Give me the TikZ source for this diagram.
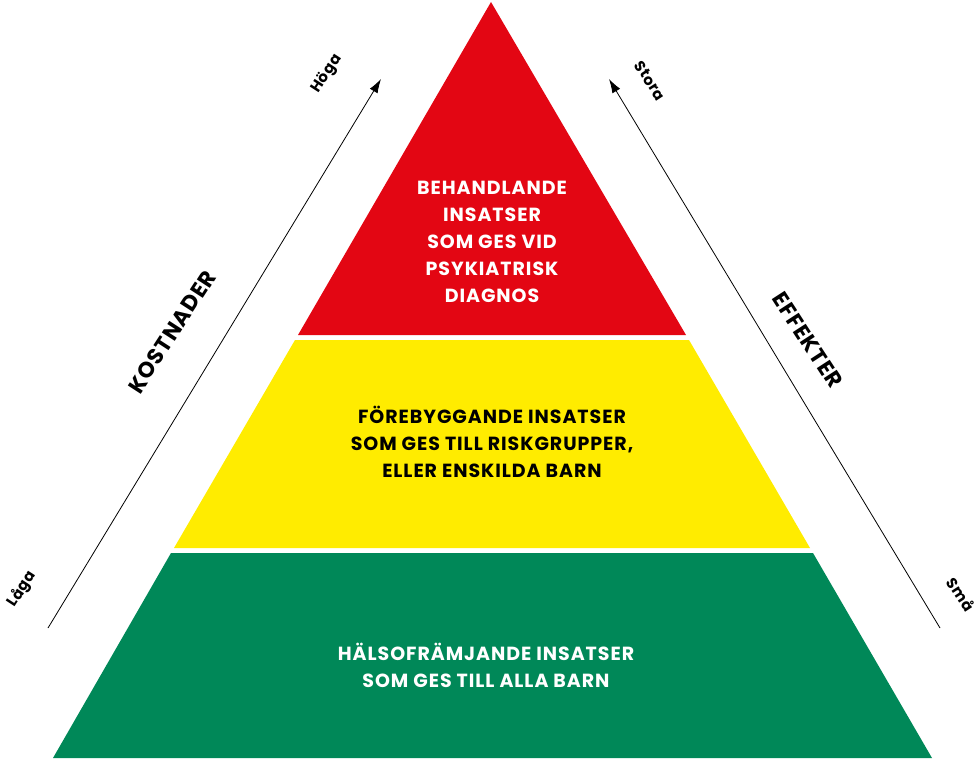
\documentclass[tikz,border=0pt]{standalone}
\usepackage{fontspec}
\setmainfont{Poppins}
\usetikzlibrary{arrows.meta}
\definecolor{pyrred}{HTML}{E30613}
\definecolor{pyryellow}{HTML}{FFEC00}
\definecolor{pyrgreen}{HTML}{008858}
\begin{document}
\begin{tikzpicture}[x=1pt,y=-1pt,
  bandtext/.style={text=white,font=\fontsize{19}{27}\selectfont\bfseries\addfontfeatures{LetterSpace=5},align=center},
  axislabel/.style={font=\fontsize{22}{24}\selectfont\bfseries\addfontfeatures{LetterSpace=4}},
  endlabel/.style={font=\fontsize{15}{16}\selectfont\bfseries\addfontfeatures{LetterSpace=3}},
  axisarrow/.style={thick,-{Latex[length=14pt,width=9pt]}}]
\useasboundingbox (0,0) rectangle (979,759);
% pyramid bands
\fill[pyrred] (491,2) -- (686,335) -- (298,335) -- cycle;
\fill[pyryellow] (295,340) -- (689,340) -- (810,548) -- (174,548) -- cycle;
\fill[pyrgreen] (171,553) -- (813,553) -- (932,758) -- (53,758) -- cycle;
% texts in the bands
\draw (492,242)node[bandtext](top){BEHANDLANDE\\INSATSER\\SOM GES VID\\PSYKIATRISK\\DIAGNOS};
\draw (492,442)node[bandtext,text=black](mid){FÖREBYGGANDE INSATSER\\SOM GES TILL RISKGRUPPER,\\ELLER ENSKILDA BARN};
\draw (486,665)node[bandtext](base){HÄLSOFRÄMJANDE INSATSER\\SOM GES TILL ALLA BARN};
% cost axis
\coordinate (costlow) at (48,628);
\coordinate (costhigh) at (381,79);
\draw[axisarrow] (costlow) -- (costhigh);
\draw (172,332)node[axislabel,rotate=57](cost){KOSTNADER};
\draw (327,74)node[endlabel,rotate=57](high){Höga};
\draw (22,589)node[endlabel,rotate=57](low){Låga};
% effect axis
\coordinate (efflow) at (940,628);
\coordinate (effhigh) at (609,79);
\draw[axisarrow] (efflow) -- (effhigh);
\draw (808,340)node[axislabel,rotate=-57](effect){EFFEKTER};
\draw (650,81)node[endlabel,rotate=-57](large){Stora};
\draw (961,594)node[endlabel,rotate=-57](small){Små};
\end{tikzpicture}
\end{document}
